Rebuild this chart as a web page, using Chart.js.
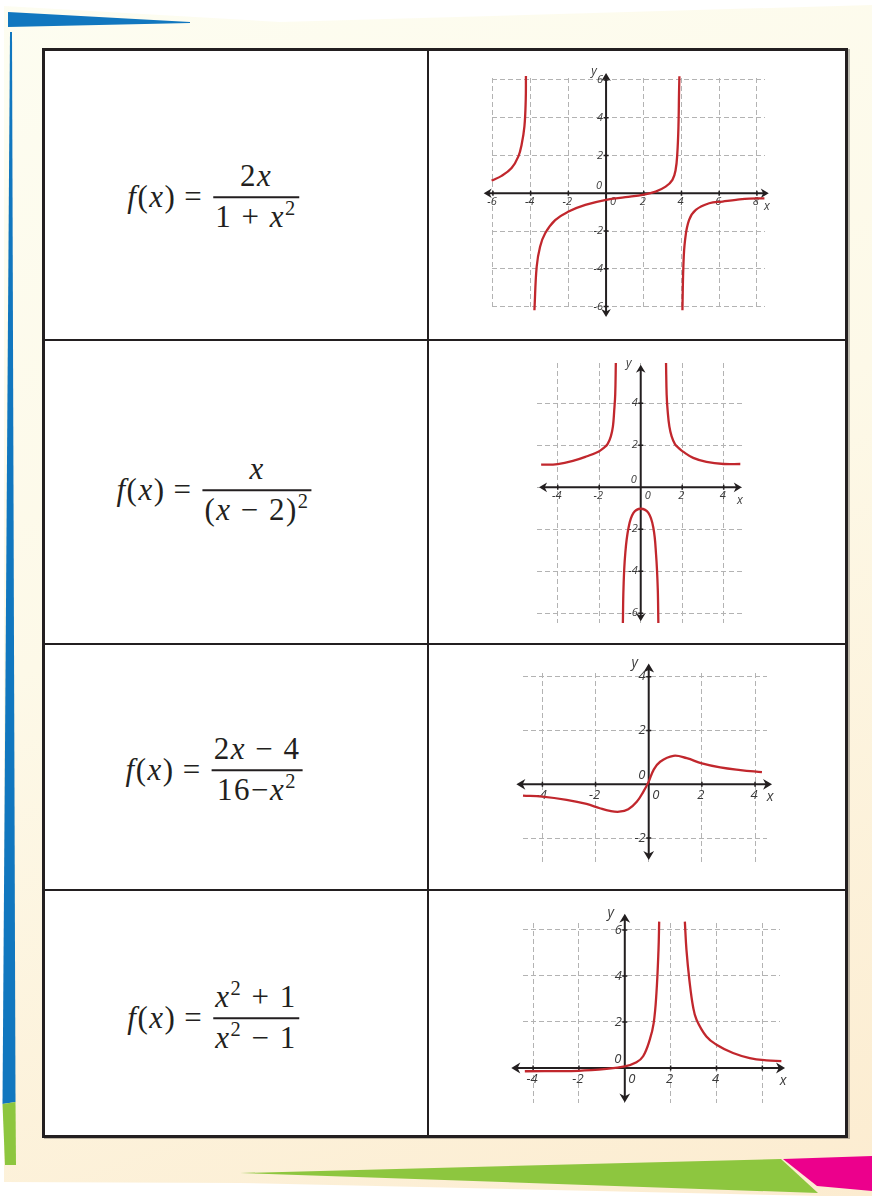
<!DOCTYPE html>
<html>
<head>
<meta charset="utf-8">
<script src="https://cdn.jsdelivr.net/npm/chart.js@4.4.0/dist/chart.umd.min.js"></script>
<style>
  html, body { margin: 0; padding: 0; background: #fff; }
  #page { position: relative; width: 872px; height: 1196px; overflow: hidden; }
  .deco { position: absolute; left: 0; top: 0; width: 872px; height: 1196px; }
  #cream {
    background: linear-gradient(160deg, #fdfdf1 0%, #fdf9e8 45%, #fcecd0 100%);
    clip-path: polygon(4px 6px, 280px 22px, 872px 5px, 872px 1196px, 820px 1196px, 240px 1183px, 4px 1182px);
  }
  #blueTop { background: #1177bf; clip-path: polygon(8px 12px, 190px 22px, 190px 23px, 8px 27px); }
  #blueLeft { background: #1177bf; clip-path: polygon(10px 32px, 12px 32px, 15.5px 1102px, 2.5px 1104px); }
  #greenLeft { background: #8dc63f; clip-path: polygon(2.5px 1104px, 15.5px 1102px, 16px 1165px, 5px 1165px); }
  #greenBottom { background: #8dc63f; clip-path: polygon(240px 1173px, 781px 1159px, 818px 1193px); }
  #pink { background: #ec008c; clip-path: polygon(783px 1159px, 872px 1156px, 872px 1191px, 817px 1186px); }

  #sheet {
    position: absolute; left: 42px; top: 48px; width: 806px; height: 1090px;
    box-sizing: border-box; border: 3px solid #231f20; background: #fff;
    box-shadow: 2px 1px 0 rgba(0, 0, 0, 0.25);
  }
  .vline { position: absolute; left: 427px; top: 48px; width: 2px; height: 1090px; background: #231f20; }
  .hline { position: absolute; left: 42px; width: 806px; height: 2px; background: #231f20; }

  .formula {
    position: absolute; display: flex; align-items: center;
    font-family: "Liberation Serif", "DejaVu Serif", serif; font-size: 31px; color: #231f20;
    letter-spacing: 1.5px;
    transform: translate(-50%, -50%); white-space: nowrap;
  }
  .formula i { font-style: italic; }
  .formula .eq { margin: 0 4px 0 8px; }
  .frac { display: inline-flex; flex-direction: column; align-items: center; margin-left: 6px; }
  .frac .num, .frac .den { padding: 0 2px; line-height: 1.25; }
  .frac .bar { align-self: stretch; height: 2px; background: #231f20; }
  .formula sup { font-size: 0.66em; vertical-align: 0.6em; line-height: 0; }

  canvas.panel { position: absolute; }
</style>
</head>
<body>
<div id="page">
  <div class="deco" id="cream"></div>
  <div class="deco" id="blueTop"></div>
  <div class="deco" id="blueLeft"></div>
  <div class="deco" id="greenLeft"></div>
  <div class="deco" id="greenBottom"></div>
  <div class="deco" id="pink"></div>

  <div id="sheet"></div>
  <div class="vline"></div>
  <div class="hline" style="top:339px"></div>
  <div class="hline" style="top:643px"></div>
  <div class="hline" style="top:889px"></div>

  <div class="formula" style="left:213px; top:197px">
    <span><i>f</i>(<i>x</i>)</span><span class="eq">=</span>
    <span class="frac"><span class="num">2<i>x</i></span><span class="bar"></span><span class="den">1 + <i>x</i><sup>2</sup></span></span>
  </div>
  <div class="formula" style="left:214px; top:490px">
    <span><i>f</i>(<i>x</i>)</span><span class="eq">=</span>
    <span class="frac"><span class="num"><i>x</i></span><span class="bar"></span><span class="den">(<i>x</i> − 2)<sup>2</sup></span></span>
  </div>
  <div class="formula" style="left:214px; top:770px">
    <span><i>f</i>(<i>x</i>)</span><span class="eq">=</span>
    <span class="frac"><span class="num">2<i>x</i> − 4</span><span class="bar"></span><span class="den">16−<i>x</i><sup>2</sup></span></span>
  </div>
  <div class="formula" style="left:213px; top:1018px">
    <span><i>f</i>(<i>x</i>)</span><span class="eq">=</span>
    <span class="frac"><span class="num"><i>x</i><sup>2</sup> + 1</span><span class="bar"></span><span class="den"><i>x</i><sup>2</sup> − 1</span></span>
  </div>

  <canvas class="panel" id="graph1"></canvas>
  <canvas class="panel" id="graph2"></canvas>
  <canvas class="panel" id="graph3"></canvas>
  <canvas class="panel" id="graph4"></canvas>
</div>

<script>
// ---- graph 1 ----
const g1GridX = [-6, -4, -2, 0, 2, 4, 6, 8];
const g1GridY = [-6, -4, -2, 0, 2, 4, 6];
const g1TickX = [-6, -4, -2, 2, 4, 6, 8];
const g1TickY = [-6, -4, -2, 2, 4, 6];
const g1LeftX = [-6.07, -5.54, -5.01, -4.65, -4.48, -4.33, -4.26, -4.25];
const g1LeftY = [0.67, 0.92, 1.33, 1.95, 2.57, 3.54, 4.96, 6.2];
const g1MidX = [-3.80, -3.68, -3.50, -3.23, -2.70, -1.99, -1.10, 0, 1.03, 2.0, 2.63, 3.16, 3.52, 3.69, 3.78, 3.84, 3.87, 3.89];
const g1MidY = [-6.19, -3.89, -2.83, -2.12, -1.42, -0.97, -0.62, -0.35, -0.21, -0.07, 0.09, 0.35, 0.71, 1.24, 2.12, 3.54, 5.31, 6.19];
const g1RightX = [4.05, 4.10, 4.19, 4.40, 4.76, 5.47, 6.18, 6.89, 7.60, 8.40];
const g1RightY = [-6.19, -3.89, -2.48, -1.42, -0.88, -0.53, -0.44, -0.35, -0.28, -0.27];

// ---- graph 2 ----
const g2GridX = [-4, -2, 0, 2, 4];
const g2GridY = [-6, -4, -2, 0, 2, 4];
const g2TickX = [-4, -2, 2, 4];
const g2TickY = [-6, -4, -2, 2, 4];
const g2LeftX = [-4.8, -4.0, -3.23, -2.59, -2.02, -1.78, -1.6, -1.44, -1.34, -1.28, -1.23, -1.2];
const g2LeftY = [1.08, 1.11, 1.27, 1.48, 1.71, 1.88, 2.06, 2.43, 2.9, 3.62, 4.41, 5.92];
const g2RightX = [1.22, 1.25, 1.30, 1.38, 1.49, 1.65, 1.86, 2.02, 2.53, 3.17, 4.0, 4.8];
const g2RightY = [5.92, 4.41, 3.62, 2.9, 2.43, 2.06, 1.84, 1.71, 1.40, 1.21, 1.11, 1.11];
const g2LowX = [-0.86, -0.83, -0.75, -0.59, -0.35, 0, 0.37, 0.61, 0.74, 0.82, 0.85];
const g2LowY = [-6.46, -4.79, -3.21, -1.94, -1.22, -1.02, -1.22, -1.94, -3.21, -4.79, -6.46];

// ---- graph 3 ----
const g3GridX = [-4, -2, 0, 2, 4];
const g3GridY = [-2, 0, 2, 4];
const g3TickX = [-4, -2, 2, 4];
const g3TickY = [-2, 2, 4];
const g3CurveX = [-4.73, -4.0, -3.09, -2.34, -1.84, -1.46, -1.11, -0.77, -0.45, -0.20, 0, 0.18, 0.43, 0.93, 1.43, 2.0, 2.69, 3.45, 4.26];
const g3CurveY = [-0.42, -0.46, -0.58, -0.73, -0.89, -0.99, -1.02, -0.93, -0.65, -0.27, 0.1, 0.53, 0.84, 1.06, 0.97, 0.78, 0.63, 0.53, 0.45];

// ---- graph 4 ----
const g4GridX = [-4, -2, 0, 2, 4, 6];
const g4GridY = [0, 2, 4, 6];
const g4TickX = [-4, -2, 2, 4];
const g4TickY = [2, 4, 6];
const g4LeftX = [-4.36, -2.02, -0.80, 0, 0.51, 0.80, 1.09, 1.26, 1.38, 1.47, 1.50];
const g4LeftY = [-0.14, -0.12, -0.04, 0.07, 0.25, 0.51, 1.23, 1.95, 3.25, 5.13, 6.36];
const g4RightX = [2.62, 2.69, 2.82, 2.98, 3.13, 3.56, 4.0, 4.72, 5.45, 6.18, 6.83];
const g4RightY = [6.36, 5.13, 3.8, 2.65, 2.10, 1.37, 1.01, 0.65, 0.43, 0.33, 0.30];

const INK = '#231f20';
const CURVE = '#c1272d';
const GRID = '#b3b3b3';
const LABEL = '#3a3a3a';
const PAD = 24;

function arrowHead(ctx, tx, ty, dx, dy, len, half) {
    // dx/dy: unit direction the arrow points to
    const bx = tx - dx * len, by = ty - dy * len;
    const nx = tx - dx * len * 0.7, ny = ty - dy * len * 0.7;
    ctx.beginPath();
    ctx.moveTo(tx, ty);
    ctx.lineTo(bx - dy * half, by + dx * half);
    ctx.lineTo(nx, ny);
    ctx.lineTo(bx + dy * half, by - dx * half);
    ctx.closePath();
    ctx.fill();
}

function axesPlugin(cfg) {
    return {
        id: 'crossAxes',
        beforeDatasetsDraw(chart) {
            const ctx = chart.ctx;
            const sx = chart.scales.x, sy = chart.scales.y;
            const ox = sx.getPixelForValue(0), oy = sy.getPixelForValue(0);
            const xl = sx.getPixelForValue(cfg.axisX[0]), xr = sx.getPixelForValue(cfg.axisX[1]);
            const yb = sy.getPixelForValue(cfg.axisY[0]), yt = sy.getPixelForValue(cfg.axisY[1]);
            ctx.save();
            ctx.strokeStyle = INK;
            ctx.fillStyle = INK;
            ctx.lineWidth = 2;
            ctx.beginPath();
            ctx.moveTo(xl + 4, oy); ctx.lineTo(xr - 4, oy);
            ctx.moveTo(ox, yt + 4); ctx.lineTo(ox, yb - 4);
            ctx.stroke();
            arrowHead(ctx, xl, oy, -1, 0, cfg.arrow, cfg.arrow * 0.6);
            arrowHead(ctx, xr, oy, 1, 0, cfg.arrow, cfg.arrow * 0.6);
            arrowHead(ctx, ox, yt, 0, -1, cfg.arrow, cfg.arrow * 0.6);
            arrowHead(ctx, ox, yb, 0, 1, cfg.arrow, cfg.arrow * 0.6);

            // little tick marks where the grid meets the axes
            ctx.lineWidth = 1.5;
            ctx.beginPath();
            cfg.gridX.forEach(v => {
                if (v === 0) return;
                const px = sx.getPixelForValue(v);
                ctx.moveTo(px, oy - 2.5); ctx.lineTo(px, oy + 2.5);
            });
            cfg.gridY.forEach(v => {
                if (v === 0) return;
                const py = sy.getPixelForValue(v);
                ctx.moveTo(ox - 2.5, py); ctx.lineTo(ox + 2.5, py);
            });
            ctx.stroke();

            // tick labels
            ctx.fillStyle = LABEL;
            ctx.font = `italic ${cfg.font}px "Open Sans", "DejaVu Sans", sans-serif`;
            ctx.textBaseline = 'middle';
            ctx.textAlign = 'center';
            cfg.tickX.forEach(v => {
                ctx.fillText(String(v), sx.getPixelForValue(v) - 1, oy + cfg.font - 2);
            });
            ctx.textAlign = 'right';
            cfg.tickY.forEach(v => {
                ctx.fillText(String(v), ox - 3, sy.getPixelForValue(v));
            });
            ctx.textAlign = 'center';
            ctx.fillText('0', ox + 7, oy + cfg.font - 2);
            ctx.fillText('0', ox - 7, oy - cfg.font * 0.7);
            ctx.font = `italic ${cfg.font + 1}px "Open Sans", "DejaVu Sans", sans-serif`;
            ctx.fillText('x', xr - 2, oy + 13);
            ctx.fillText('y', ox - cfg.font - 1, yt - 1);
            ctx.restore();
        }
    };
}

function drawGraph(id, cfg, curves) {
    const canvas = document.getElementById(id);
    const [l, t, r, b] = cfg.area;
    const w = Math.round(r - l) + PAD * 2;
    const h = Math.round(b - t) + PAD * 2;
    canvas.width = w;
    canvas.height = h;
    canvas.style.left = (Math.round(l) - PAD) + 'px';
    canvas.style.top = (Math.round(t) - PAD) + 'px';

    const gridScale = (range, grid) => ({
        type: 'linear',
        min: range[0],
        max: range[1],
        afterBuildTicks: s => { s.ticks = grid.map(v => ({ value: v })); },
        ticks: { display: false },
        grid: { color: GRID, lineWidth: 1, drawTicks: false, borderDash: [5, 3] },
        border: { display: false, dash: [5, 3] }
    });

    return new Chart(canvas, {
        type: 'scatter',
        data: {
            datasets: curves.map(([xs, ys]) => ({
                data: xs.map((x, i) => ({ x, y: ys[i] })),
                showLine: true,
                borderColor: CURVE,
                borderWidth: 2.3,
                pointRadius: 0,
                tension: 0.4,
                clip: 12
            }))
        },
        options: {
            responsive: false,
            animation: false,
            events: [],
            layout: { padding: PAD },
            plugins: { legend: { display: false }, tooltip: { enabled: false } },
            scales: {
                x: gridScale(cfg.rangeX, cfg.gridX),
                y: gridScale(cfg.rangeY, cfg.gridY)
            }
        },
        plugins: [axesPlugin(cfg)]
    });
}

drawGraph('graph1', {
    area: [492, 78, 765, 310], rangeX: [-6.05, 8.43], rangeY: [-6.18, 6.1],
    axisX: [-6.49, 8.63], axisY: [-6.55, 6.37], arrow: 8, font: 11,
    gridX: g1GridX, gridY: g1GridY, tickX: g1TickX, tickY: g1TickY
}, [[g1LeftX, g1LeftY], [g1MidX, g1MidY], [g1RightX, g1RightY]]);

drawGraph('graph2', {
    area: [537, 363, 743, 623], rangeX: [-5.0, 4.93], rangeY: [-6.46, 5.92],
    axisX: [-4.9, 4.87], axisY: [-6.38, 5.84], arrow: 8, font: 11,
    gridX: g2GridX, gridY: g2GridY, tickX: g2TickX, tickY: g2TickY
}, [[g2LeftX, g2LeftY], [g2RightX, g2RightY], [g2LowX, g2LowY]]);

drawGraph('graph3', {
    area: [523, 673, 767, 862], rangeX: [-4.73, 4.45], rangeY: [-2.89, 4.14],
    axisX: [-4.98, 4.64], axisY: [-2.82, 4.49], arrow: 9, font: 13,
    gridX: g3GridX, gridY: g3GridY, tickX: g3TickX, tickY: g3TickY
}, [[g3CurveX, g3CurveY]]);

drawGraph('graph4', {
    area: [523, 923, 780, 1103], rangeX: [-4.44, 6.77], rangeY: [-1.52, 6.3],
    axisX: [-4.95, 6.99], axisY: [-1.5, 6.7], arrow: 9, font: 13,
    gridX: g4GridX, gridY: g4GridY, tickX: g4TickX, tickY: g4TickY
}, [[g4LeftX, g4LeftY], [g4RightX, g4RightY]]);
</script>
</body>
</html>
